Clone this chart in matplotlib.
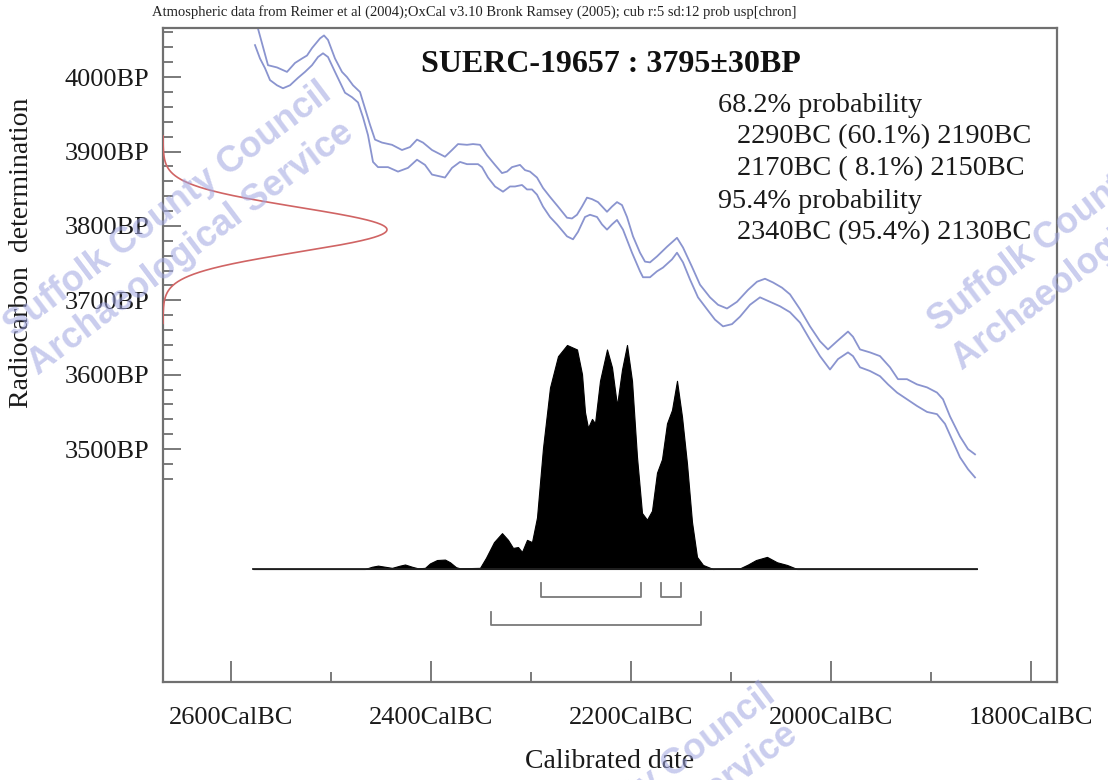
import numpy as np
import matplotlib
matplotlib.use("Agg")
import matplotlib.pyplot as plt

# ---------------- data ----------------
sample_name = "SUERC-19657"
bp_mean = 3795
bp_sd = 30

# calibration curve (upper / lower 1-sigma envelope), year BC, BP
cal_upper_year = [2578, 2574, 2563, 2554, 2544, 2536, 2529, 2524, 2519, 2511, 2507, 2503, 2496, 2489, 2484,
                  2478, 2471, 2466, 2461, 2456, 2449, 2439, 2429, 2421, 2414, 2408, 2399, 2386, 2379, 2373,
                  2364, 2358, 2351, 2344, 2336, 2329, 2324, 2319, 2311, 2306, 2301, 2294, 2288, 2281, 2273,
                  2264, 2259, 2254, 2249, 2244, 2239, 2233, 2224, 2219, 2214, 2209, 2204, 2198, 2191, 2186,
                  2181, 2174, 2164, 2154, 2148, 2139, 2131, 2121, 2113, 2104, 2094, 2083, 2074, 2066, 2058,
                  2049, 2041, 2031, 2021, 2011, 2003, 1994, 1983, 1978, 1971, 1961, 1951, 1941, 1933, 1924,
                  1914, 1904, 1894, 1888, 1881, 1871, 1863, 1856]
cal_upper_bp = [4078, 4070, 4016, 4013, 4007, 4019, 4025, 4029, 4039, 4052, 4056, 4050, 4025, 4007, 4000,
                3989, 3980, 3958, 3936, 3916, 3912, 3909, 3902, 3906, 3916, 3912, 3902, 3893, 3902, 3910,
                3909, 3910, 3909, 3895, 3882, 3871, 3873, 3879, 3882, 3875, 3873, 3865, 3851, 3839, 3826,
                3811, 3810, 3815, 3826, 3838, 3836, 3832, 3819, 3826, 3832, 3828, 3812, 3786, 3764, 3752,
                3751, 3759, 3772, 3784, 3771, 3745, 3721, 3704, 3694, 3689, 3698, 3714, 3725, 3729, 3724,
                3717, 3708, 3688, 3665, 3645, 3634, 3645, 3658, 3651, 3634, 3630, 3625, 3610, 3594, 3594,
                3587, 3583, 3576, 3567, 3544, 3517, 3500, 3493]

cal_lower_year = [2576, 2571, 2566, 2561, 2554, 2548, 2541, 2533, 2526, 2519, 2513, 2508, 2503, 2496, 2491,
                  2486, 2479, 2473, 2468, 2463, 2458, 2453, 2443, 2433, 2423, 2414, 2406, 2399, 2386, 2379,
                  2371, 2364, 2353, 2349, 2343, 2336, 2328, 2321, 2316, 2309, 2304, 2299, 2294, 2288, 2281,
                  2274, 2264, 2258, 2253, 2246, 2241, 2234, 2229, 2224, 2219, 2214, 2208, 2199, 2191, 2188,
                  2181, 2174, 2168, 2159, 2154, 2148, 2141, 2133, 2124, 2116, 2108, 2099, 2091, 2081, 2071,
                  2061, 2051, 2041, 2031, 2021, 2011, 2001, 1993, 1983, 1978, 1971, 1961, 1951, 1943, 1934,
                  1924, 1914, 1904, 1894, 1886, 1879, 1871, 1863, 1856]
cal_lower_bp = [4043, 4025, 4012, 3996, 3989, 3985, 3989, 3999, 4007, 4016, 4027, 4032, 4027, 4007, 3993,
                3979, 3973, 3966, 3946, 3922, 3886, 3879, 3879, 3873, 3878, 3889, 3882, 3869, 3865, 3878,
                3886, 3883, 3883, 3879, 3865, 3853, 3846, 3853, 3853, 3855, 3849, 3849, 3842, 3826, 3812,
                3802, 3786, 3782, 3792, 3812, 3815, 3812, 3802, 3795, 3802, 3808, 3795, 3764, 3739, 3731,
                3731, 3739, 3744, 3755, 3764, 3751, 3728, 3704, 3688, 3674, 3665, 3668, 3678, 3694, 3704,
                3698, 3692, 3684, 3670, 3647, 3625, 3607, 3621, 3630, 3625, 3610, 3605, 3598, 3587, 3576,
                3567, 3558, 3550, 3547, 3534, 3513, 3489, 3473, 3462]

# calibrated probability distribution (relative), year BC
dist_year = [2578, 2466, 2459, 2453, 2446, 2439, 2431, 2426, 2419, 2413, 2406, 2401, 2394, 2386, 2381,
             2375, 2371, 2351, 2345, 2337, 2329, 2323, 2318, 2313, 2309, 2304, 2299, 2294, 2288, 2281,
             2273, 2264, 2254, 2249, 2246, 2243, 2239, 2236, 2231, 2224, 2219, 2214, 2209, 2204, 2199,
             2194, 2189, 2184, 2179, 2174, 2169, 2164, 2159, 2154, 2149, 2144, 2139, 2134, 2128, 2118,
             2091, 2083, 2075, 2064, 2054, 2044, 2034, 1854]
dist_prob = [0.0, 0.0, 0.01, 0.015, 0.01, 0.005, 0.015, 0.02, 0.01, 0.003, 0.005, 0.025, 0.04, 0.042, 0.03,
             0.008, 0.003, 0.005, 0.05, 0.12, 0.16, 0.13, 0.094, 0.098, 0.076, 0.13, 0.12, 0.23, 0.54, 0.81,
             0.95, 1.0, 0.98, 0.87, 0.70, 0.63, 0.67, 0.65, 0.84, 0.98, 0.90, 0.73, 0.89, 1.0, 0.84,
             0.50, 0.25, 0.22, 0.26, 0.43, 0.49, 0.65, 0.71, 0.84, 0.68, 0.47, 0.21, 0.054, 0.018, 0.0,
             0.003, 0.02, 0.04, 0.054, 0.03, 0.018, 0.0, 0.0]

range68 = [(2290, 2190), (2170, 2150)]
range95 = [(2340, 2130)]

prob_text = ["68.2% probability",
             "2290BC (60.1%) 2190BC",
             "2170BC ( 8.1%) 2150BC",
             "95.4% probability",
             "2340BC (95.4%) 2130BC"]
prob_indent = [0, 1, 1, 0, 1]

x_ticks_major = [2600, 2400, 2200, 2000, 1800]
x_ticks_minor = [2500, 2300, 2100, 1900]
y_ticks_major = [3500, 3600, 3700, 3800, 3900, 4000]
y_ticks_minor = list(range(3460, 4061, 20))

# ---------------- figure ----------------
serif = ["Liberation Serif", "DejaVu Serif"]
fig = plt.figure(figsize=(11.08, 7.80), dpi=100)
fig.patch.set_facecolor("white")
L, R, B, T = 163/1108, 1057/1108, 1 - 682/780, 1 - 28/780
ax = fig.add_axes([L, B, R - L, T - B])
ax.set_xlim(2668, 1774)
ax.set_ylim(3187, 4066)

spine_col = "#707070"
for s in ax.spines.values():
    s.set_color(spine_col)
    s.set_linewidth(1.6)

# calibration curve
blue = "#8a94cf"
ax.plot(cal_upper_year, cal_upper_bp, color=blue, lw=1.3, zorder=2, solid_joinstyle="round")
ax.plot(cal_lower_year, cal_lower_bp, color=blue, lw=1.3, zorder=2, solid_joinstyle="round")

# radiocarbon measurement curve on left
ys = np.linspace(bp_mean - 4.2 * bp_sd, bp_mean + 4.2 * bp_sd, 400)
dens = np.exp(-0.5 * ((ys - bp_mean) / bp_sd) ** 2)
axr = ax.twiny()
axr.set_xlim(0, 894 / 224)
axr.plot(dens, ys, color="#d06464", lw=1.2, zorder=3)
axr.set_xticks([])
for s in axr.spines.values():
    s.set_visible(False)

# calibrated distribution
ax2 = ax.twinx()
ax2.set_ylim(-0.5045, 2.415)
ax2.set_yticks([])
for s in ax2.spines.values():
    s.set_visible(False)
ax2.fill_between(dist_year, 0, dist_prob, color="black", lw=0.8, zorder=4)
ax2.plot([dist_year[0], dist_year[-1]], [0, 0], color="#222222", lw=1.3, zorder=4)

br_col = "#7a7a7a"
for (a, b) in range68:
    ax2.plot([a, a, b, b], [-0.0625, -0.125, -0.125, -0.0625], color=br_col, lw=1.3)
for (a, b) in range95:
    ax2.plot([a, a, b, b], [-0.19, -0.25, -0.25, -0.19], color=br_col, lw=1.3)

# ticks
ax.set_xticks(x_ticks_major)
ax.set_xticks(x_ticks_minor, minor=True)
ax.set_xticklabels([f"{v}CalBC" for v in x_ticks_major])
ax.set_yticks(y_ticks_major)
ax.set_yticks(y_ticks_minor, minor=True)
ax.set_yticklabels([f"{v}BP" for v in y_ticks_major])
ax.tick_params(axis="both", which="both", direction="in", color=spine_col, width=1.3,
               top=False, right=False)
ax.tick_params(axis="x", which="major", length=15, pad=18, labelsize=19)
ax.tick_params(axis="x", which="minor", length=7)
ax.tick_params(axis="y", which="major", length=13, pad=10, labelsize=19)
ax.tick_params(axis="y", which="minor", length=7)
for lab in ax.get_xticklabels() + ax.get_yticklabels():
    lab.set_fontfamily(serif)
    lab.set_color("#1a1a1a")

ax.set_xlabel("Calibrated date", fontsize=20, family=serif, color="#1a1a1a")
ax.xaxis.set_label_coords(0.5, (682 - 762) / 654)
ax.xaxis.label.set_verticalalignment("center")
ax.set_ylabel("Radiocarbon  determination", fontsize=20, family=serif, color="#1a1a1a")
ax.yaxis.set_label_coords((22 - 163) / 894, (682 - 253) / 654)
ax.yaxis.label.set_verticalalignment("center")

# texts
fig.text(152/1108, 1 - 12/780,
         "Atmospheric data from Reimer et al (2004);OxCal v3.10 Bronk Ramsey (2005); cub r:5 sd:12 prob usp[chron]",
         fontsize=10.5, family=serif, ha="left", va="center", color="#222222")
fig.text(611/1108, 1 - 65/780, f"{sample_name} : {bp_mean}\u00b1{bp_sd}BP",
         fontsize=23, weight="bold", family=serif, ha="center", va="center", color="#111111")
for i, (line, ind) in enumerate(zip(prob_text, prob_indent)):
    fig.text((718 + 19 * ind)/1108, 1 - (105 + 32 * i)/780, line, fontsize=20.3, family=serif,
             ha="left", va="center", color="#1a1a1a")

# watermark
wm_col = "#9ea4e0"
wm_kw = dict(fontsize=26, weight="bold", family=["Liberation Sans", "DejaVu Sans"], color=wm_col,
             alpha=0.55, rotation=37, rotation_mode="anchor", ha="left", va="baseline", zorder=10)
for (x0, y0) in [(14, 338), (938, 333), (458, 940)]:
    fig.text(x0/1108, 1 - y0/780, "Suffolk County Council", **wm_kw)
    fig.text((x0 + 24)/1108, 1 - (y0 + 38)/780, "Archaeological Service", **wm_kw)

fig.savefig("out.png", dpi=100, facecolor="white")
